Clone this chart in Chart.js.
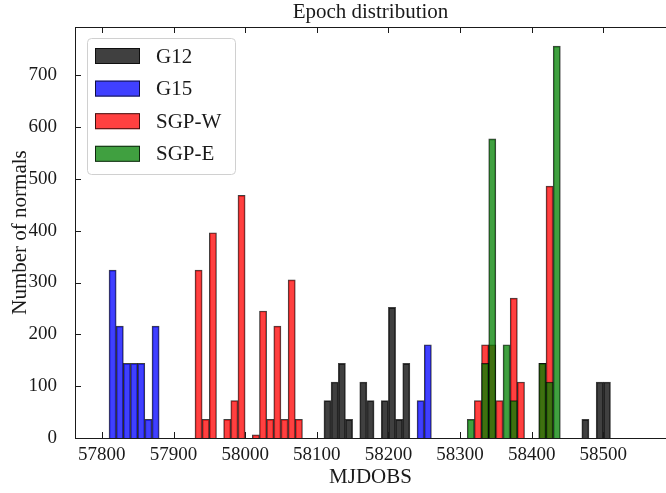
<!DOCTYPE html>
<html>
<head>
<meta charset="utf-8">
<script src="https://cdn.jsdelivr.net/npm/chart.js@4.4.1/dist/chart.umd.min.js"></script>
<style>
html, body { margin: 0; padding: 0; background: #fff; }
#wrap { width: 666px; height: 493px; }
</style>
</head>
<body>
<div id="wrap"><canvas id="canvas"></canvas></div>
<script>
// histogram bins (centres, MJD) and counts per site
var g12Bins = [58115, 58125, 58135, 58145, 58165, 58175, 58195, 58205, 58215, 58225, 58475, 58495, 58505];
var g12Counts = [72, 108, 144, 36, 108, 72, 72, 252, 36, 144, 36, 108, 108];
var g15Bins = [57815, 57825, 57835, 57845, 57855, 57865, 57875, 58245, 58255];
var g15Counts = [324, 216, 144, 144, 144, 36, 216, 72, 180];
var sgpwBins = [57935, 57945, 57955, 57975, 57985, 57995, 58015, 58025, 58035, 58045, 58055, 58065, 58075, 58325, 58335, 58345, 58355, 58375, 58385, 58415, 58425];
var sgpwCounts = [324, 36, 396, 36, 72, 468, 6, 245, 36, 216, 36, 305, 36, 72, 180, 180, 72, 270, 108, 144, 486];
var sgpeBins = [58315, 58335, 58345, 58365, 58375, 58415, 58425, 58435];
var sgpeCounts = [36, 144, 577, 180, 72, 144, 108, 756];

var seriesNames = ['G12', 'G15', 'SGP-W', 'SGP-E'];
var seriesColors = ['rgba(0,0,0,0.75)', 'rgba(0,0,255,0.75)', 'rgba(255,0,0,0.75)', 'rgba(0,128,0,0.75)'];

// tick labels
var xTickValues = [57800, 57900, 58000, 58100, 58200, 58300, 58400, 58500];
var yTickValues = [0, 100, 200, 300, 400, 500, 600, 700];

var FONT = '"Liberation Serif", "DejaVu Serif", serif';
var INK = '#1a1a1a';

function points(bins, counts) {
    var out = [];
    for (var i = 0; i < bins.length; i++) out.push({x: bins[i], y: counts[i]});
    return out;
}
function fixedTicks(values) {
    return function(scale) {
        scale.ticks = values.map(function(v) { return {value: v}; });
    };
}

var allBins = [g12Bins, g15Bins, sgpwBins, sgpeBins];
var allCounts = [g12Counts, g15Counts, sgpwCounts, sgpeCounts];
var dataSets = [];
for (var k = 0; k < seriesNames.length; k++) {
    dataSets.push({
        label: seriesNames[k],
        data: points(allBins[k], allCounts[k]),
        backgroundColor: seriesColors[k],
        borderColor: 'rgba(0,0,0,0.75)',
        borderWidth: 1,
        order: seriesNames.length - k   // later series drawn on top, like matplotlib
    });
}

// ticks pointing inwards (matplotlib "direction: in")
var inwardTicks = {
    id: 'inwardTicks',
    afterDatasetsDraw: function(chart) {
        var ctx = chart.ctx, a = chart.chartArea, len = 6;
        ctx.save();
        ctx.strokeStyle = INK;
        ctx.lineWidth = 1;
        ctx.beginPath();
        chart.scales.x.ticks.forEach(function(t) {
            var px = Math.round(chart.scales.x.getPixelForValue(t.value)) + 0.5;
            ctx.moveTo(px, a.bottom); ctx.lineTo(px, a.bottom - len);
            ctx.moveTo(px, a.top); ctx.lineTo(px, a.top + len);
        });
        chart.scales.y.ticks.forEach(function(t) {
            var py = Math.round(chart.scales.y.getPixelForValue(t.value)) + 0.5;
            ctx.moveTo(a.left, py); ctx.lineTo(a.left + len, py);
        });
        ctx.stroke();
        ctx.restore();
    }
};

// legend box in the upper left of the axes
var boxLegend = {
    id: 'boxLegend',
    afterDraw: function(chart) {
        var ctx = chart.ctx, a = chart.chartArea;
        var x0 = a.left + 12, y0 = a.top + 11, w = 148, h = 136, r = 4;
        ctx.save();
        ctx.beginPath();
        ctx.roundRect(x0 + 0.5, y0 + 0.5, w, h, r);
        ctx.fillStyle = 'rgba(255,255,255,0.8)';
        ctx.fill();
        ctx.strokeStyle = '#d0d0d0';
        ctx.lineWidth = 1;
        ctx.stroke();
        ctx.font = '21px ' + FONT;
        ctx.textBaseline = 'middle';
        chart.data.datasets.forEach(function(ds, i) {
            var cy = y0 + 18 + i * 32.6;
            ctx.fillStyle = ds.backgroundColor;
            ctx.fillRect(x0 + 8, cy - 8, 45, 16);
            ctx.strokeStyle = 'rgba(0,0,0,0.75)';
            ctx.strokeRect(x0 + 8.5, cy - 7.5, 44, 15);
            ctx.fillStyle = INK;
            ctx.fillText(ds.label, x0 + 69, cy + 1);
        });
        ctx.restore();
    }
};

var ctx = document.getElementById('canvas').getContext('2d');
var myChart = new Chart(ctx, {
    type: 'bar',
    data: { datasets: dataSets },
    plugins: [inwardTicks, boxLegend],
    options: {
        responsive: true,
        maintainAspectRatio: false,
        animation: false,
        layout: { padding: { left: 0, top: 0, right: -7, bottom: 0 } },
        datasets: {
            bar: { grouped: false, barPercentage: 1, categoryPercentage: 1, borderSkipped: 'start' }
        },
        plugins: {
            legend: { display: false },
            tooltip: { enabled: false },
            title: { display: false }
        },
        scales: {
            x: {
                type: 'linear',
                position: 'bottom',
                min: 57762.5,
                max: 58587.5,
                offset: false,
                grid: { display: false, offset: false },
                border: { display: true, color: INK, width: 1 },
                afterBuildTicks: fixedTicks(xTickValues),
                ticks: {
                    autoSkip: false,
                    maxRotation: 0,
                    padding: -2,
                    color: INK,
                    font: { family: FONT, size: 19 },
                    callback: function(v) { return String(v); }
                },
                title: {
                    display: true,
                    text: 'MJDOBS',
                    color: INK,
                    font: { family: FONT, size: 21 },
                    padding: { top: 0, bottom: 3 }
                },
                afterFit: function(scale) { scale.height = 55; }
            },
            x2: {
                type: 'linear',
                position: 'top',
                min: 57762.5,
                max: 58587.5,
                offset: false,
                grid: { display: false },
                border: { display: true, color: INK, width: 1 },
                ticks: { display: false },
                title: {
                    display: true,
                    text: 'Epoch distribution',
                    color: INK,
                    font: { family: FONT, size: 21 },
                    padding: { top: 0, bottom: 0 }
                },
                afterFit: function(scale) { scale.height = 27; }
            },
            y: {
                type: 'linear',
                min: 0,
                max: 793,
                grid: { display: false },
                border: { display: true, color: INK, width: 1 },
                afterBuildTicks: fixedTicks(yTickValues),
                ticks: {
                    padding: 10,
                    color: INK,
                    font: { family: FONT, size: 19 }
                },
                title: {
                    display: true,
                    text: 'Number of normals',
                    color: INK,
                    font: { family: FONT, size: 21 },
                    padding: { top: 8, bottom: 0 }
                },
                afterFit: function(scale) { scale.width = 75; }
            }
        }
    }
});
</script>
</body>
</html>
